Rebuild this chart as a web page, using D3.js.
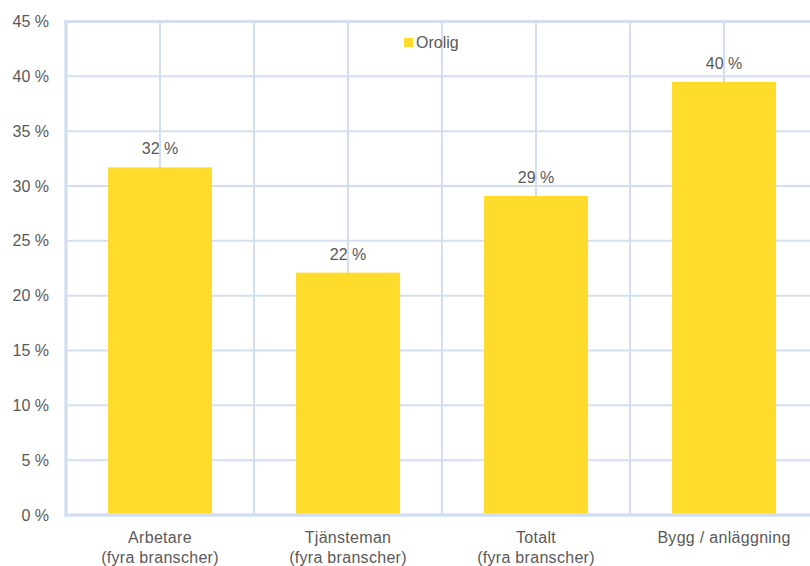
<!DOCTYPE html>
<html>
<head>
<meta charset="utf-8">
<script src="https://cdn.jsdelivr.net/npm/d3@7"></script>
<style>
  body { margin: 0; background: #fff; }
  text { font-family: "Liberation Sans", Arial, sans-serif; fill: #595959; }
</style>
</head>
<body>
<div class="visHolder"></div>
<script>
const categories = [['Arbetare', '(fyra branscher)'], ['Tjänsteman', '(fyra branscher)'], ['Totalt', '(fyra branscher)'], ['Bygg / anläggning']];
const orolig = [31.7, 22.1, 29.1, 39.5];
const valueLabels = ['32 %', '22 %', '29 %', '40 %'];
const yTicks = [0, 5, 10, 15, 20, 25, 30, 35, 40, 45];

const w = 810, h = 566;
const padLeft = 66, padTop = 21.5, padBottom = 515, bandW = 188;

const svg = d3.select('.visHolder')
  .append('svg')
  .attr('width', w)
  .attr('height', h);

const xScale = d3.scaleBand()
  .domain(d3.range(categories.length))
  .range([padLeft, padLeft + bandW * categories.length])
  .paddingInner(0.447)
  .paddingOuter(0.2235);

const yScale = d3.scaleLinear()
  .domain([0, 45])
  .range([padBottom, padTop]);

const gridColor = '#D3DFF0';

// horizontal grid
svg.append('g')
  .selectAll('line')
  .data(yTicks)
  .enter()
  .append('line')
  .attr('x1', padLeft)
  .attr('x2', w)
  .attr('y1', d => yScale(d))
  .attr('y2', d => yScale(d))
  .attr('stroke', gridColor)
  .attr('stroke-width', d => (d === 45 ? 3 : 2));

// vertical grid, at category centres and boundaries
const vLines = d3.range(1, categories.length * 2 + 1).map(i => padLeft + i * bandW / 2);
svg.append('g')
  .selectAll('line')
  .data(vLines)
  .enter()
  .append('line')
  .attr('x1', d => d)
  .attr('x2', d => d)
  .attr('y1', padTop)
  .attr('y2', padBottom)
  .attr('stroke', gridColor)
  .attr('stroke-width', 2);

// bars
svg.selectAll('rect.bar')
  .data(orolig)
  .enter()
  .append('rect')
  .attr('class', 'bar')
  .attr('x', (d, i) => xScale(i))
  .attr('width', xScale.bandwidth())
  .attr('y', d => yScale(d))
  .attr('height', d => padBottom - yScale(d))
  .attr('fill', '#FFDC2B');

// axes lines (thick)
svg.append('line')
  .attr('x1', padLeft).attr('x2', padLeft)
  .attr('y1', padTop - 1.5).attr('y2', padBottom + 1.5)
  .attr('stroke', gridColor).attr('stroke-width', 3.5);
svg.append('line')
  .attr('x1', padLeft - 1.5).attr('x2', w)
  .attr('y1', padBottom).attr('y2', padBottom)
  .attr('stroke', gridColor).attr('stroke-width', 3.5);

// value labels
svg.selectAll('text.val')
  .data(orolig)
  .enter()
  .append('text')
  .attr('class', 'val')
  .attr('x', (d, i) => xScale(i) + xScale.bandwidth() / 2)
  .attr('y', d => yScale(d) - 13)
  .attr('text-anchor', 'middle')
  .style('font-size', '16px')
  .text((d, i) => valueLabels[i]);

// y tick labels
svg.selectAll('text.ytick')
  .data(yTicks)
  .enter()
  .append('text')
  .attr('class', 'ytick')
  .attr('x', 49)
  .attr('y', d => yScale(d))
  .attr('dy', '0.35em')
  .attr('text-anchor', 'end')
  .style('font-size', '16px')
  .text(d => d + ' %');

// category labels
const cat = svg.selectAll('text.cat')
  .data(categories)
  .enter()
  .append('text')
  .attr('class', 'cat')
  .attr('text-anchor', 'middle')
  .style('font-size', '16px')
  .style('letter-spacing', '0.3px');
cat.selectAll('tspan')
  .data((d, i) => d.map(t => ({t, i})))
  .enter()
  .append('tspan')
  .attr('x', d => xScale(d.i) + xScale.bandwidth() / 2)
  .attr('y', (d, j) => 543 + j * 20)
  .text(d => d.t);

// legend
const legend = svg.append('g').attr('id', 'legend');
legend.append('rect')
  .attr('x', 404).attr('y', 38)
  .attr('width', 9).attr('height', 9)
  .attr('fill', '#FFDC2B');
legend.append('text')
  .attr('x', 416).attr('y', 48)
  .style('font-size', '16px')
  .text('Orolig');
</script>
</body>
</html>
